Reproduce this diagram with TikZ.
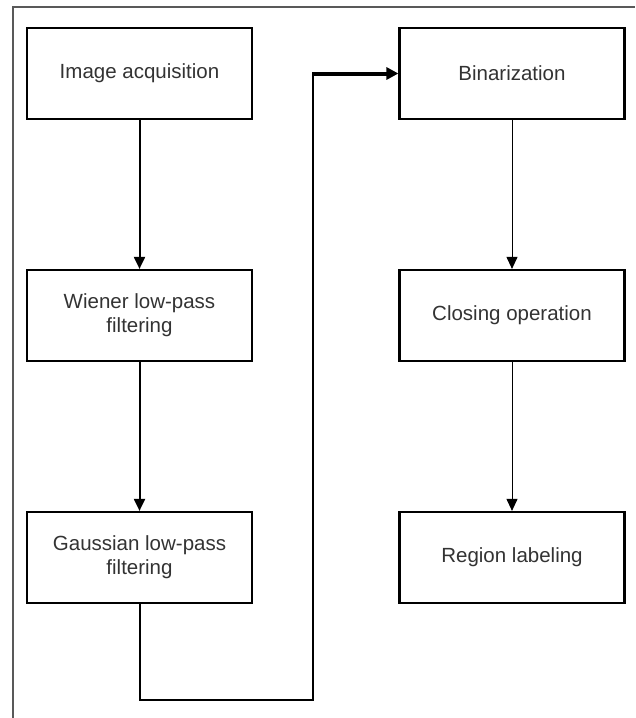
\documentclass[tikz,border=0pt]{standalone}
\usepackage{fontspec}
\setmainfont{Liberation Sans}
\usepackage{tikz}
\usetikzlibrary{arrows.meta}
\tikzstyle{stepbox} = [draw=black, fill=white, line width=2.2pt,
    rectangle, minimum width=225pt, minimum height=91pt, align=center,
    text=black!80, font=\fontsize{20.5}{24}\selectfont]
\tikzstyle{flow} = [line width=2pt, -{Triangle[width=11pt,length=12pt]}]
\tikzstyle{thinflow} = [line width=1pt, -{Triangle[width=11pt,length=12pt]}]

\begin{document}
\begin{tikzpicture}[x=1pt,y=-1pt]
\useasboundingbox (0,0) rectangle (635,718);
\draw[black!65, line width=2pt] (13,718) -- (13,7) -- (635,7);
% left column
\node[stepbox] (acq) at (139.5,73.5) {Image acquisition};
\node[stepbox] (wiener) at (139.5,315.5) {Wiener low-pass\\filtering};
\node[stepbox] (gauss) at (139.5,557.5) {Gaussian low-pass\\filtering};
% right column
\node[stepbox] (bin) at (512,73.5) {Binarization};
\node[stepbox] (closing) at (512,315.5) {Closing operation};
\node[stepbox] (region) at (512,557.5) {Region labeling};
% connectors
\draw[flow] (acq) -- (wiener);
\draw[flow] (wiener) -- (gauss);
\coordinate (turn) at (313,700);
\coordinate (up) at (313,73.5);
\draw[line width=2pt, line join=miter] (gauss.south) -- (gauss.south |- turn) -- (turn) -- (up);
\draw[line width=4pt, -{Triangle[width=12pt,length=12pt]}] ([xshift=-1pt]up) -- (bin.west);
\draw[thinflow] (bin) -- (closing);
\draw[thinflow] (closing) -- (region);
\end{tikzpicture}
\end{document}
